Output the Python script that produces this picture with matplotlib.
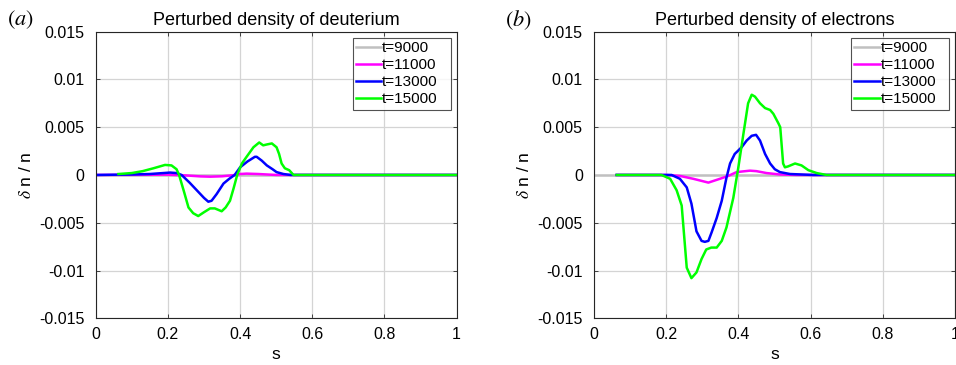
import numpy as np
import matplotlib.pyplot as plt

plt.rcParams['font.family'] = ['Liberation Sans', 'DejaVu Sans']
plt.rcParams['mathtext.fontset'] = 'stix'

labels = ['t=9000', 't=11000', 't=13000', 't=15000']
colors = ['#c0c0c0', '#ff00ff', '#0000ff', '#00ff00']

# ---- (a) deuterium ----
d_s9 = [0.0, 1.0]
d_n9 = [0.0, 0.0]

d_s11 = [0.0, 0.2, 0.25, 0.29, 0.317, 0.35, 0.38, 0.4, 0.418, 0.45, 0.5, 1.0]
d_n11 = [0.0, 0.00003, -0.00005, -0.00015, -0.00018, -0.00014, -0.00003, 0.0001, 0.00014, 0.0001, 0.0, 0.0]

d_s13 = [0.0, 0.1, 0.15, 0.206, 0.224, 0.238, 0.26, 0.28, 0.3, 0.312, 0.321, 0.335, 0.354, 0.37, 0.385,
         0.4, 0.42, 0.441, 0.446, 0.46, 0.474, 0.49, 0.501, 0.52, 0.54, 1.0]
d_n13 = [0.0, 0.00005, 0.0001, 0.00025, 0.0002, 0.0, -0.0008, -0.0016, -0.0024, -0.0028, -0.0027,
         -0.002, -0.0009, -0.0004, 0.0, 0.0008, 0.0014, 0.0019, 0.0019, 0.0015, 0.001, 0.0006,
         0.0003, 0.0001, 0.0, 0.0]

d_s15 = [0.063, 0.1, 0.13, 0.16, 0.192, 0.21, 0.224, 0.231, 0.245, 0.257, 0.27, 0.284, 0.3, 0.317,
         0.33, 0.349, 0.36, 0.372, 0.382, 0.392, 0.405, 0.418, 0.437, 0.453, 0.464, 0.475, 0.488,
         0.501, 0.508, 0.515, 0.524, 0.536, 0.548, 1.0]
d_n15 = [0.0001, 0.0002, 0.0004, 0.0007, 0.00105, 0.001, 0.0006, 0.0, -0.0018, -0.0034, -0.004,
         -0.0043, -0.0039, -0.0035, -0.0035, -0.0038, -0.0034, -0.0027, -0.0014, 0.0, 0.0012, 0.0019,
         0.0029, 0.0034, 0.0031, 0.0032, 0.0033, 0.0029, 0.0022, 0.0012, 0.0007, 0.0005, 0.0, 0.0]

# ---- (b) electrons ----
e_s9 = [0.0, 1.0]
e_n9 = [0.0, 0.0]

e_s11 = [0.063, 0.2, 0.238, 0.275, 0.317, 0.349, 0.372, 0.395, 0.432, 0.45, 0.478, 0.515, 0.56, 1.0]
e_n11 = [0.0, 0.0, -0.0001, -0.0004, -0.0008, -0.0004, -0.0001, 0.0003, 0.00045, 0.0004, 0.0002,
         0.00005, 0.0, 0.0]

e_s13 = [0.063, 0.215, 0.238, 0.257, 0.27, 0.284, 0.298, 0.307, 0.317, 0.326, 0.34, 0.354, 0.367,
         0.377, 0.39, 0.409, 0.423, 0.437, 0.449, 0.46, 0.474, 0.488, 0.501, 0.515, 0.543, 0.607, 1.0]
e_n13 = [0.0, 0.0, -0.0004, -0.0013, -0.003, -0.0059, -0.0069, -0.007, -0.0069, -0.006, -0.0045,
         -0.0027, -0.0003, 0.0012, 0.0022, 0.0029, 0.0036, 0.0041, 0.0042, 0.0036, 0.0022, 0.0012,
         0.0006, 0.0003, 0.0001, 0.0, 0.0]

e_s15 = [0.063, 0.187, 0.211, 0.229, 0.243, 0.257, 0.27, 0.284, 0.298, 0.311, 0.325, 0.34, 0.354,
         0.367, 0.386, 0.4, 0.414, 0.427, 0.437, 0.446, 0.46, 0.474, 0.488, 0.497, 0.511, 0.516,
         0.524, 0.529, 0.538, 0.557, 0.575, 0.594, 0.617, 0.644, 1.0]
e_n15 = [0.0, 0.0, -0.0004, -0.0016, -0.0032, -0.0097, -0.0108, -0.0102, -0.0088, -0.0078, -0.0076,
         -0.0076, -0.0069, -0.0055, -0.0024, 0.0008, 0.0043, 0.0075, 0.0084, 0.0082, 0.0075, 0.007,
         0.0068, 0.0064, 0.0054, 0.005, 0.0012, 0.0008, 0.0009, 0.0012, 0.001, 0.0005, 0.0002, 0.0, 0.0]

panels = [
    ('Perturbed density of deuterium', '$(a)$',
     [(d_s9, d_n9), (d_s11, d_n11), (d_s13, d_n13), (d_s15, d_n15)]),
    ('Perturbed density of electrons', '$(b)$',
     [(e_s9, e_n9), (e_s11, e_n11), (e_s13, e_n13), (e_s15, e_n15)]),
]

fig = plt.figure(figsize=(9.56, 3.65), dpi=100)
lefts = [0.1001, 0.6213]

for (title, tag, series), left in zip(panels, lefts):
    ax = fig.add_axes([left, 0.128, 0.3776, 0.7853])
    for (s, n), c, lab in zip(series, colors, labels):
        ax.plot(s, n, color=c, lw=1.8, label=lab)
    ax.set_xlim(0, 1)
    ax.set_ylim(-0.015, 0.015)
    ax.set_xticks([0, 0.2, 0.4, 0.6, 0.8, 1])
    ax.set_xticklabels(['0', '0.2', '0.4', '0.6', '0.8', '1'])
    ax.set_yticks([-0.015, -0.01, -0.005, 0, 0.005, 0.01, 0.015])
    ax.set_yticklabels(['-0.015', '-0.01', '-0.005', '0', '0.005', '0.01', '0.015'])
    ax.grid(True, color='#d4d4d4', lw=0.9)
    ax.set_axisbelow(True)
    ax.tick_params(direction='in', length=3, width=0.6, labelsize=11.5, top=True, right=True,
                   color='#262626')
    ax.tick_params(axis='y', pad=8)
    ax.tick_params(axis='x', pad=6)
    for sp in ax.spines.values():
        sp.set_color('#262626')
        sp.set_linewidth(0.8)
    ax.set_title(title, fontsize=13, pad=5)
    ax.set_xlabel('s', fontsize=12.5, labelpad=4)
    ax.set_ylabel(r'$\delta$ n / n', fontsize=12.5, labelpad=4)
    leg = ax.legend(loc='upper left', bbox_to_anchor=(0.712, 0.72, 0.272, 0.258), mode='expand',
                    borderaxespad=0, fontsize=11, frameon=True, fancybox=False,
                    handlelength=1.65, handletextpad=0.05, borderpad=0.22, labelspacing=0.2)
    leg.get_frame().set_edgecolor('#262626')
    leg.get_frame().set_linewidth(0.8)
    fig.text(left - 0.093, 0.945, tag, fontsize=16, ha='left', va='center')

fig.savefig('out.png', dpi=100)
